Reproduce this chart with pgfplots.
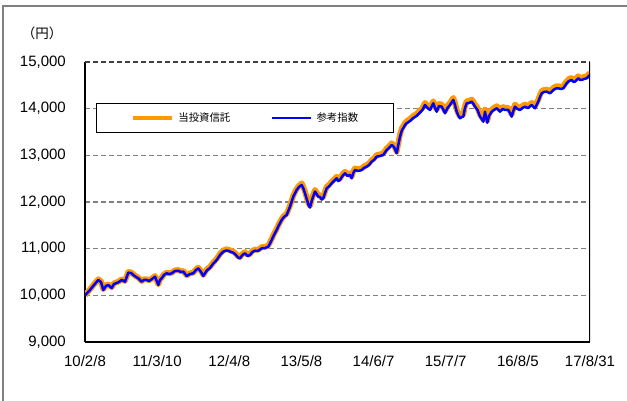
\documentclass[border=0pt]{standalone}
\usepackage{fontspec}
\setmainfont{Liberation Sans}
\newfontfamily\cjk{Noto Sans CJK JP}
\usepackage{pgfplots}
\pgfplotsset{compat=1.18}
\usepackage{pgfplotstable}
\definecolor{fundorange}{RGB}{255,153,0}
\definecolor{idxblue}{RGB}{0,0,255}
\pgfplotstableread{
x fund idx
85 10000 10000
90 10130 10114
94 10235 10220
98.3 10345 10330
101 10300 10285
103.3 10130 10114
106 10215 10200
108.3 10235 10220
111.7 10172 10157
114 10258 10243
116.7 10279 10264
119 10301 10286
121.7 10345 10330
125 10307 10292
128.3 10500 10485
131 10494 10479
133.3 10451 10436
136 10408 10393
138.3 10380 10365
141.7 10307 10292
144 10344 10329
146.7 10344 10329
149 10322 10307
151.7 10359 10344
155 10415 10400
158.3 10236 10221
160 10344 10329
161.7 10380 10365
164 10451 10436
166.7 10487 10472
169 10472 10457
171.7 10487 10472
175 10536 10521
178.3 10543 10528
181 10515 10500
183.3 10522 10507
186.7 10429 10414
190 10472 10457
193.3 10487 10472
196 10558 10543
198.3 10594 10579
201 10525 10500
203.3 10439 10414
206.7 10553 10528
210 10611 10586
213 10697 10672
216.7 10782 10757
220 10889 10864
223.3 10960 10935
226 10986 10961
228.3 10981 10956
231 10954 10929
233.3 10939 10914
236 10889 10864
238 10836 10811
240 10819 10794
242.5 10889 10864
245 10926 10901
247.5 10868 10843
250 10889 10864
252.5 10954 10929
255 10981 10956
258 10975 10950
261.7 11033 11008
265 11039 11014
268.3 11067 11042
270 11136 11111
271.7 11211 11186
274 11318 11293
276.7 11425 11400
279 11532 11507
281.7 11639 11614
284 11704 11679
286.7 11747 11722
290 11925 11900
293.3 12139 12114
296.7 12282 12257
299 12347 12322
301.7 12400 12365
303.3 12329 12294
305 12222 12187
307 12078 12043
308.5 11971 11936
310 11917 11882
312 12078 12043
315 12260 12225
318.3 12149 12114
320 12142 12107
321.7 12089 12054
323.3 12115 12080
325 12228 12193
326.7 12329 12294
329 12367 12332
331.7 12436 12401
334 12485 12450
336.7 12543 12508
338.3 12485 12450
340 12507 12472
342.5 12592 12557
345 12650 12615
347.5 12592 12557
350 12614 12579
351.7 12543 12508
353.3 12657 12622
355 12721 12686
358 12699 12664
361.7 12721 12686
364 12764 12729
366.7 12792 12757
369 12828 12793
371.7 12899 12864
374 12935 12900
376.7 13006 12971
380 13021 12986
383.3 13042 13007
385 13096 13061
386.7 13150 13115
389 13192 13157
391.7 13257 13222
394 13214 13179
396.7 13079 13044
398.3 13257 13222
400 13445 13400
402 13588 13543
403.3 13625 13580
405 13695 13650
406.7 13732 13687
410 13781 13736
413.3 13845 13800
416.5 13888 13843
420 13963 13918
422.5 14017 13972
425 14124 14079
427.5 14060 14015
430 14017 13972
433.3 14160 14115
435 14060 14015
436.7 13980 13935
439 14102 14057
441.7 14088 14043
443.5 14017 13972
445 13946 13901
447.5 14060 14015
450 14124 14079
453.3 14231 14186
455 14124 14079
456.7 13980 13935
458.5 13888 13843
460 13839 13794
461.7 13867 13822
463.3 13874 13829
465 14060 14015
466.7 14160 14115
469 14167 14122
471.7 14195 14150
473.5 14145 14100
475 14088 14043
477.5 14017 13972
480 13874 13829
481.7 13824 13779
483.3 13766 13721
485 13980 13935
486.2 13845 13800
487.3 13745 13700
489 13888 13843
491.7 13980 13935
494 14017 13972
496.7 14053 14008
498.5 14017 13972
500 13980 13935
502.5 14038 13993
505 14017 13972
508.3 14017 13972
510 13952 13907
511.7 13874 13829
513.3 13995 13950
515 14088 14043
517.5 14038 13993
520 14017 13972
522.5 14060 14015
525 14088 14043
528 14060 14015
531.7 14124 14079
535 14053 14008
538.3 14195 14150
540 14295 14250
541.7 14375 14330
544 14403 14358
546.7 14409 14364
550 14375 14330
553.3 14445 14400
556 14478 14433
558.3 14481 14436
561 14467 14422
563.3 14481 14436
566.7 14589 14544
569 14638 14593
571.7 14660 14615
573.5 14617 14572
575 14624 14579
578.3 14696 14651
580 14660 14615
581.7 14660 14615
584 14681 14636
586.7 14696 14651
590 14767 14722
}\datatable

\begin{document}
\begin{tikzpicture}[x=1pt,y=1pt]
\useasboundingbox (0,0) rectangle (627,401);
\draw[gray, line width=1.5pt] (3,0) -- (3,395) -- (627,395);
\node[font=\cjk\fontsize{13.5}{15}\selectfont] at (42,368) {（円）};
\begin{axis}[
  at={(85pt,59pt)}, anchor=south west, scale only axis,
  width=505pt, height=280pt,
  xmin=85, xmax=590, ymin=9000, ymax=15000,
  xtick={85,157.14,229.29,301.43,373.57,445.71,517.86,590},
  xticklabels={10/2/8,11/3/10,12/4/8,13/5/8,14/6/7,15/7/7,16/8/5,{\raisebox{-1.5pt}{17/8/31}}},
  ytick={9000,10000,11000,12000,13000,14000,15000},
  scaled y ticks=false,
  /pgf/number format/1000 sep={,},
  /pgf/number format/assume math mode=true,
  ymajorgrids,
  grid style={gray, line width=1.3pt, dash pattern=on 5pt off 3pt},
  axis x line*=bottom, axis y line*=left,
  axis line style={black, line width=1.2pt},
  major tick length=0pt, tick style={draw=none},
  ticklabel style={font=\fontsize{15}{18}\selectfont},
  yticklabel style={inner sep=0pt, xshift=-19pt},
  xticklabel style={inner sep=0pt, yshift=-13pt},
  legend columns=2,
  legend style={at={(axis cs:95.7,14115)}, anchor=north west,
    draw=black, line width=1pt, inner xsep=35pt, inner ysep=9pt,
    font=\cjk\fontsize{10.4}{12}\selectfont,
    nodes={inner sep=0pt},
    /tikz/every odd column/.append style={column sep=5pt},
    /tikz/every even column/.append style={column sep=41pt}},
]
\addplot[fundorange, line width=5.8pt, line join=round,
  legend image code/.code={\draw[fundorange, line width=3.2pt] (0pt,0pt) -- (39pt,0pt);}]
  table[x=x, y=fund] {\datatable};
\addlegendentry{当投資信託}
\addplot[idxblue, line width=2.5pt, line join=round,
  legend image code/.code={\draw[idxblue, line width=2.2pt] (0pt,0pt) -- (38pt,0pt);}]
  table[x=x, y=idx] {\datatable};
\addlegendentry{参考指数}
\draw[black!75, line width=1.3pt, dash pattern=on 5pt off 3pt] (rel axis cs:0,1) -- (rel axis cs:1,1);
\draw[black, line width=1.2pt] (rel axis cs:1,0) -- (rel axis cs:1,1);
\end{axis}
\end{tikzpicture}
\end{document}
